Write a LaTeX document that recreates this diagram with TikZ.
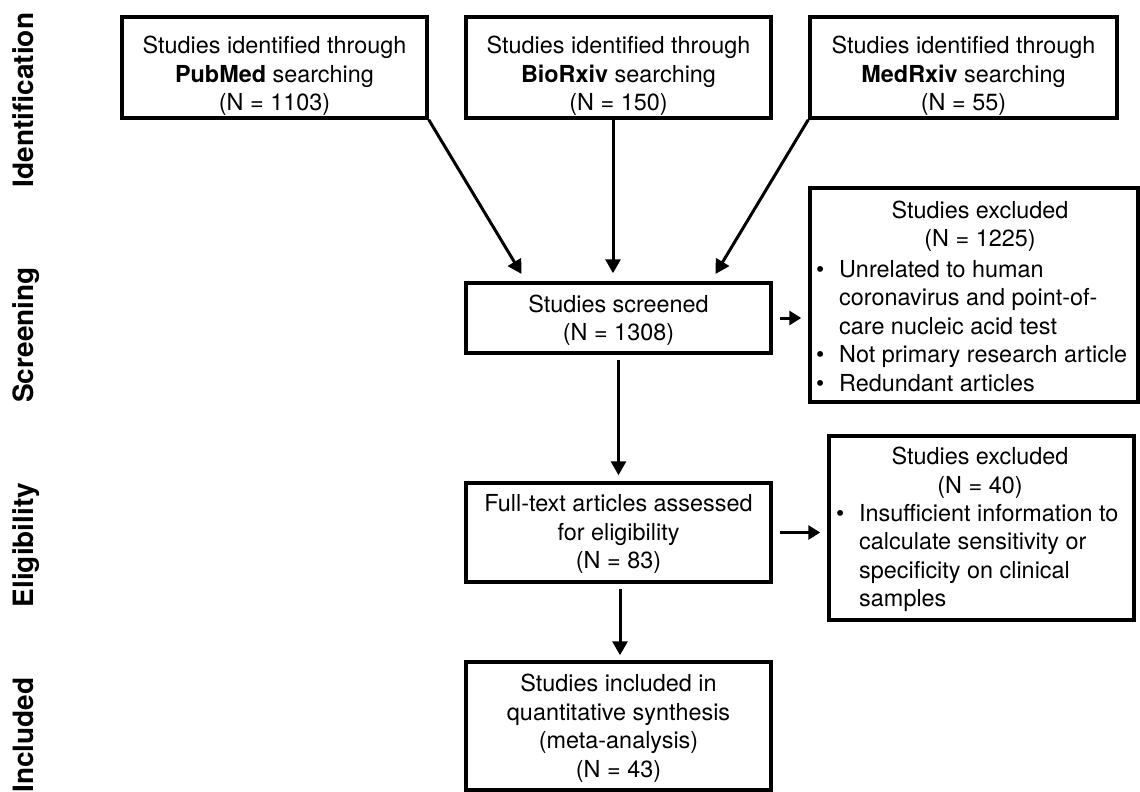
\documentclass[tikz,border=0pt]{standalone}
\usepackage{fontspec}
\setmainfont{TeX Gyre Heros}
\usetikzlibrary{arrows.meta,calc}
\newcommand{\bul}{\makebox[23pt][l]{\textbullet}}
\newcommand{\ind}{\hspace*{23pt}}
\begin{document}
\begin{tikzpicture}[x=1pt,y=-1pt,
  box/.style={draw, line width=3.5pt, inner sep=0pt},
  txt/.style={font=\fontsize{23.4}{28.5}\selectfont, align=center, inner sep=0pt},
  lst/.style={font=\fontsize{23.4}{28.5}\selectfont, align=left, inner sep=0pt, anchor=west},
  phase/.style={font=\fontsize{28}{30}\selectfont\bfseries, rotate=90, anchor=base, inner sep=0pt},
  arr/.style={line width=3pt, -{Triangle[length=14pt,width=15pt]}},
  sarr/.style={line width=3pt, -{Triangle[length=12pt,width=14pt]}}]
\useasboundingbox (0,0) rectangle (1140,792);
% phase labels
\node[phase] (lid) at (33,100) {Identification};
\node[phase] (lsc) at (33,335) {Screening};
\node[phase] (lel) at (33,545) {Eligibility};
\node[phase] (lin) at (33,735) {Included};
% top boxes
\node[box, minimum width=305pt, minimum height=101pt] (pub) at (274.5,67.5) {};
\node[box, minimum width=305pt, minimum height=101pt] (bio) at (618.5,67.5) {};
\node[box, minimum width=307pt, minimum height=101pt] (med) at (963.5,67.5) {};
\node[txt] (tpub) at (274.5,76) {Studies identified through\\\textbf{PubMed} searching\\(N = 1103)};
\node[txt] (tbio) at (618.5,76) {Studies identified through\\\textbf{BioRxiv} searching\\(N = 150)};
\node[txt] (tmed) at (963.5,76) {Studies identified through\\\textbf{MedRxiv} searching\\(N = 55)};
% screening
\node[box, minimum width=305pt, minimum height=70pt] (scr) at (618.5,318) {};
\node[txt] (tscr) at (618.5,320) {Studies screened\\(N = 1308)};
% excluded 1
\node[box, minimum width=328pt, minimum height=214pt] (ex1) at (974,295) {};
\node[txt] (tex1h) at (980,226) {Studies excluded\\(N = 1225)};
\node[lst] (tex1l) at (816,326) {\bul Unrelated to human\\\ind coronavirus and point-of-\\\ind care nucleic acid test\\\bul Not primary research article\\\bul Redundant articles};
% eligibility
\node[box, minimum width=305pt, minimum height=99pt] (eli) at (618.5,532.5) {};
\node[txt] (teli) at (618.5,534) {Full-text articles assessed\\for eligibility\\(N = 83)};
% excluded 2
\node[box, minimum width=305pt, minimum height=184pt] (ex2) at (981.5,528) {};
\node[txt] (tex2h) at (980,472.5) {Studies excluded\\(N = 40)};
\node[lst] (tex2l) at (836,558) {\bul Insufficient information to\\\ind calculate sensitivity or\\\ind specificity on clinical\\\ind samples};
% included
\node[box, minimum width=305pt, minimum height=128pt] (inc) at (618.5,726) {};
\node[txt] (tinc) at (618.5,728) {Studies included in\\quantitative synthesis\\(meta-analysis)\\(N = 43)};
% connectors
\draw[arr, shorten >=8.5pt] (pub.south east) -- ($(scr.north west)!0.2!(scr.north east)$);
\draw[arr, shorten >=8pt] ([xshift=-5.5pt]bio.south) -- ([xshift=-5.5pt]scr.north);
\draw[arr, shorten >=8.5pt] (med.south west) -- ($(scr.north west)!0.8!(scr.north east)$);
\draw[sarr, shorten <=7pt, shorten >=7pt] (scr.east) -- (scr.east -| ex1.west);
\draw[arr, shorten <=5pt, shorten >=6pt] (scr.south) -- (eli.north);
\draw[sarr, shorten <=7pt, shorten >=7pt] (eli.east) -- (eli.east -| ex2.west);
\draw[arr, shorten <=5pt, shorten >=5pt] ([xshift=1.5pt]eli.south) -- ([xshift=1.5pt]inc.north);
\end{tikzpicture}
\end{document}
